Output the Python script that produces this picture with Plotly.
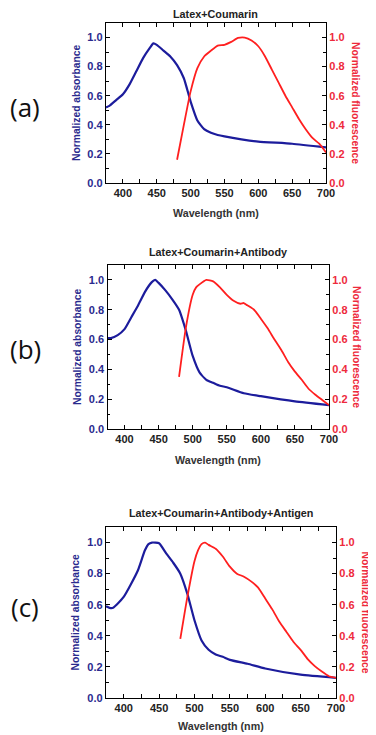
import plotly.graph_objects as go

# page body has an 8px margin; figure is sized to fit the 376x735 window
OFF = 8
W, H = 376 - OFF, 735 - OFF

# ---- data ----
wl_abs_a = [375, 380, 390, 400, 410, 420, 430, 440, 445, 450, 460, 470, 480, 490, 500, 510, 520, 530, 540, 550, 575, 600, 650, 700]
abs_a = [0.52, 0.53, 0.57, 0.61, 0.68, 0.77, 0.86, 0.93, 0.96, 0.95, 0.91, 0.87, 0.81, 0.72, 0.56, 0.43, 0.37, 0.345, 0.33, 0.32, 0.30, 0.285, 0.27, 0.245]
wl_fl_a = [480, 490, 500, 510, 520, 530, 540, 550, 560, 570, 580, 590, 600, 610, 620, 630, 640, 650, 660, 670, 680, 690, 700]
fl_a = [0.16, 0.40, 0.63, 0.79, 0.87, 0.91, 0.945, 0.95, 0.97, 0.997, 1.0, 0.98, 0.94, 0.87, 0.78, 0.69, 0.60, 0.52, 0.44, 0.37, 0.31, 0.27, 0.21]

wl_abs_b = [375, 380, 390, 400, 410, 420, 430, 440, 445, 450, 460, 470, 480, 490, 500, 510, 520, 530, 540, 550, 575, 600, 650, 700]
abs_b = [0.61, 0.61, 0.63, 0.67, 0.75, 0.83, 0.92, 0.985, 1.0, 0.98, 0.93, 0.87, 0.80, 0.66, 0.49, 0.38, 0.33, 0.31, 0.29, 0.28, 0.24, 0.22, 0.185, 0.16]
wl_fl_b = [480, 490, 500, 505, 510, 520, 530, 540, 550, 560, 570, 575, 580, 590, 600, 610, 620, 630, 640, 650, 660, 670, 680, 690, 700]
fl_b = [0.35, 0.68, 0.90, 0.95, 0.97, 1.0, 0.99, 0.95, 0.90, 0.86, 0.84, 0.845, 0.83, 0.80, 0.74, 0.675, 0.60, 0.53, 0.45, 0.385, 0.33, 0.27, 0.23, 0.195, 0.16]

wl_abs_c = [375, 380, 385, 390, 400, 410, 420, 430, 435, 440, 450, 460, 470, 480, 490, 500, 510, 520, 530, 540, 550, 575, 600, 650, 700]
abs_c = [0.59, 0.58, 0.58, 0.60, 0.65, 0.73, 0.82, 0.95, 0.99, 1.0, 0.995, 0.93, 0.87, 0.80, 0.67, 0.50, 0.37, 0.31, 0.28, 0.265, 0.245, 0.22, 0.19, 0.15, 0.13]
wl_fl_c = [480, 490, 500, 505, 510, 515, 520, 530, 540, 550, 560, 570, 580, 590, 600, 610, 620, 630, 640, 650, 660, 670, 680, 690, 700]
fl_c = [0.38, 0.65, 0.88, 0.95, 0.99, 1.0, 0.985, 0.96, 0.91, 0.845, 0.80, 0.78, 0.75, 0.71, 0.64, 0.57, 0.49, 0.425, 0.36, 0.31, 0.25, 0.205, 0.17, 0.14, 0.13]

titles = ["Latex+Coumarin", "Latex+Coumarin+Antibody", "Latex+Coumarin+Antibody+Antigen"]
panel_labels = ["(a)", "(b)", "(c)"]
x_title = "Wavelength (nm)"
y_left_title = "Normalized absorbance"
y_right_title = "Normalized fluorescence"

BLUE = "#1c1c9c"
BLUE_T = "#2a2a8e"
RED = "#ff1f1f"
RED_T = "#ee2a3c"
FONT = "Liberation Sans"

def py(p):
    return 1 - (p - OFF) / H

def px(p):
    return (p - OFF) / W

# panel geometry in window pixels: (left, right, top, bottom)
panels = [(106, 326, 23, 183), (107.5, 329, 265, 429), (106, 336, 527, 698)]
title_y = [14, 252, 513]
xtitle_y = [213, 460, 726]
label_y = [107, 349, 607]
label_x = 25
ltitle_x = [77, 77, 75]
rtitle_x = [355, 357, 365]

datasets = [(wl_abs_a, abs_a, wl_fl_a, fl_a), (wl_abs_b, abs_b, wl_fl_b, fl_b), (wl_abs_c, abs_c, wl_fl_c, fl_c)]

fig = go.Figure()
layout = dict(width=W, height=H, margin=dict(l=0, r=0, t=0, b=0),
              paper_bgcolor="white", plot_bgcolor="white", showlegend=False,
              font=dict(family=FONT, size=10, color="black"))
annotations = []

for i, (l, r, t, b) in enumerate(panels):
    xn = "x" if i == 0 else f"x{i+1}"
    yl = 2 * i + 1
    yr = 2 * i + 2
    yln = "y" if yl == 1 else f"y{yl}"
    yrn = f"y{yr}"
    wa, va, wf, vf = datasets[i]
    fig.add_trace(go.Scatter(x=wa, y=va, mode="lines", line=dict(color=BLUE, width=2.2, shape="spline", smoothing=0.5),
                             xaxis=xn, yaxis=yln))
    fig.add_trace(go.Scatter(x=wf, y=vf, mode="lines", line=dict(color=RED, width=1.8, shape="spline", smoothing=0.5),
                             xaxis=xn, yaxis=yrn))
    xkey = "xaxis" if i == 0 else f"xaxis{i+1}"
    ylkey = "yaxis" if yl == 1 else f"yaxis{yl}"
    yrkey = f"yaxis{yr}"
    layout[xkey] = dict(domain=[px(l), px(r)], anchor=yln, range=[375, 700], dtick=50, tick0=400,
                        ticks="inside", ticklen=4, tickwidth=1, tickcolor="black",
                        minor=dict(ticks="inside", dtick=25, tick0=375, ticklen=2.5, tickcolor="black"),
                        showline=True, linecolor="black", linewidth=1.3, mirror="allticks",
                        showgrid=False, zeroline=False, automargin=False,
                        tickfont=dict(family=FONT, size=11, color="#222222", weight="bold"))
    common_y = dict(domain=[py(b), py(t)], anchor=xn, range=[0, 1.1], dtick=0.2, tick0=0, tickformat=".1f",
                    ticks="inside", ticklen=4, tickwidth=1, tickcolor="black",
                    minor=dict(ticks="inside", dtick=0.1, ticklen=2.5, tickcolor="black"),
                    showline=True, linecolor="black", linewidth=1.3,
                    showgrid=False, zeroline=False, automargin=False)
    layout[ylkey] = dict(common_y, side="left",
                         tickfont=dict(family=FONT, size=11, color=BLUE_T, weight="bold"))
    layout[yrkey] = dict(common_y, side="right", overlaying=yln,
                         tickfont=dict(family=FONT, size=11, color=RED_T, weight="bold"))
    cx = (l + r) / 2
    annotations.append(dict(text=titles[i], x=px(cx), y=py(title_y[i]), xref="paper", yref="paper",
                            showarrow=False, xanchor="center", yanchor="middle",
                            font=dict(family=FONT, size=10.8, color="#222222", weight="bold")))
    annotations.append(dict(text=x_title, x=px(cx), y=py(xtitle_y[i]), xref="paper", yref="paper",
                            showarrow=False, xanchor="center", yanchor="middle",
                            font=dict(family=FONT, size=10.7, color="#333333", weight="bold")))
    annotations.append(dict(text=y_left_title, x=px(ltitle_x[i]), y=py((t + b) / 2), xref="paper", yref="paper",
                            showarrow=False, textangle=-90, xanchor="center", yanchor="middle",
                            font=dict(family=FONT, size=10.3, color=BLUE_T, weight="bold")))
    annotations.append(dict(text=y_right_title, x=px(rtitle_x[i]), y=py((t + b) / 2), xref="paper", yref="paper",
                            showarrow=False, textangle=90, xanchor="center", yanchor="middle",
                            font=dict(family=FONT, size=10.3, color=RED_T, weight="bold")))
    annotations.append(dict(text=panel_labels[i], x=px(label_x), y=py(label_y[i]), xref="paper", yref="paper",
                            showarrow=False, xanchor="center", yanchor="middle",
                            font=dict(family="Open Sans", size=26, color="#111111")))

layout["annotations"] = annotations
fig.update_layout(**layout)
fig.write_html("out.html")
